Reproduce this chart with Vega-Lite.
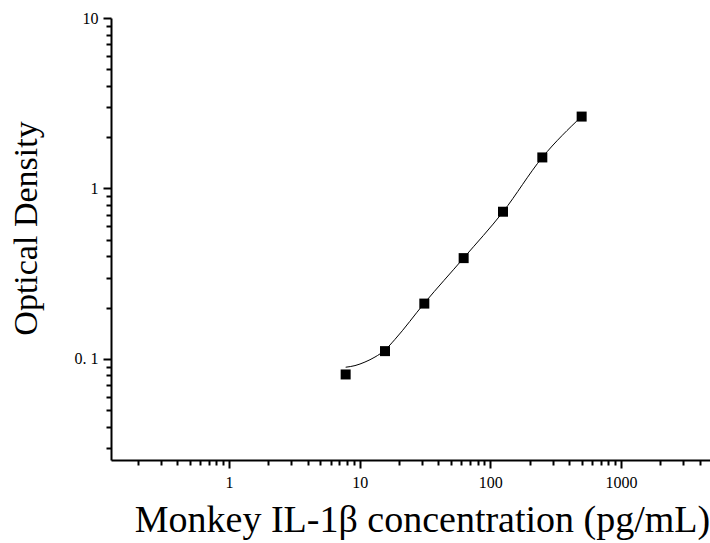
{
  "$schema": "https://vega.github.io/schema/vega-lite/v6.json",
  "width": 599,
  "height": 442,
  "autosize": "none",
  "padding": {"left": 111, "top": 18, "right": 0, "bottom": 83},
  "background": "white",
  "config": {
    "view": {"stroke": null},
    "font": "Liberation Serif",
    "axis": {"grid": false, "domainColor": "#000000", "tickColor": "#000000", "tickOpacity": 1, "ticks": true, "labelColor": "#000000", "titleColor": "#000000", "labelFont": "Liberation Serif", "titleFont": "Liberation Serif", "titleFontWeight": "normal"}
  },
  "datasets": {
    "points": [
      {"conc": 7.8125, "od": 0.081},
      {"conc": 15.625, "od": 0.111},
      {"conc": 31.25, "od": 0.211},
      {"conc": 62.5, "od": 0.39},
      {"conc": 125, "od": 0.73},
      {"conc": 250, "od": 1.52},
      {"conc": 500, "od": 2.64}
    ],
    "curve": [
      {"conc": 7.8125, "od": 0.0893},
      {"conc": 9.21, "od": 0.0913},
      {"conc": 10.98, "od": 0.0958},
      {"conc": 13.1, "od": 0.1025},
      {"conc": 15.625, "od": 0.1126},
      {"conc": 18.64, "od": 0.1302},
      {"conc": 31.25, "od": 0.2121},
      {"conc": 62.5, "od": 0.3907},
      {"conc": 125, "od": 0.7278},
      {"conc": 250, "od": 1.521},
      {"conc": 500, "od": 2.647}
    ]
  },
  "encoding": {
    "x": {"field": "conc", "type": "quantitative", "scale": {"type": "log", "domain": [0.125, 4800], "nice": false},
      "axis": {"values": [0.2, 0.3, 0.4, 0.5, 0.6, 0.7, 0.8, 0.9, 1, 2, 3, 4, 5, 6, 7, 8, 9, 10, 20, 30, 40, 50, 60, 70, 80, 90, 100, 200, 300, 400, 500, 600, 700, 800, 900, 1000, 2000, 3000, 4000],
        "labelExpr": "indexof([1,10,100,1000], datum.value) >= 0 ? format(datum.value, 'd') : ''",
        "tickSize": 8,
        "tickDash": {"condition": {"test": "indexof([1,10,100,1000], datum.value) >= 0", "value": [12, 0]}, "value": [5, 30]},
        "tickWidth": 2, "domainWidth": 2, "labelFontSize": 16, "labelPadding": 6, "labelFlush": false, "labelOverlap": false,
        "title": "Monkey IL-1β concentration (pg/mL)", "titleFontSize": 38, "titleX": 311, "titleY": 71, "titleBaseline": "alphabetic", "titleAnchor": "middle"}},
    "y": {"field": "od", "type": "quantitative", "scale": {"type": "log", "domain": [0.0255, 10], "nice": false},
      "axis": {"values": [0.03, 0.04, 0.05, 0.06, 0.07, 0.08, 0.09, 0.1, 0.2, 0.3, 0.4, 0.5, 0.6, 0.7, 0.8, 0.9, 1, 2, 3, 4, 5, 6, 7, 8, 9, 10],
        "labelExpr": "datum.value == 0.1 ? '0. 1' : datum.value == 1 ? '1' : datum.value == 10 ? '10' : ''",
        "tickSize": 8,
        "tickDash": {"condition": {"test": "indexof([0.1,1,10], datum.value) >= 0", "value": [12, 0]}, "value": [5, 30]},
        "tickWidth": 2, "domainWidth": 2, "labelFontSize": 16, "labelPadding": 5, "labelFlush": false, "labelOverlap": false,
        "title": "Optical Density", "titleFontSize": 34, "titleX": -75, "titleY": 210, "titleAngle": -90, "titleBaseline": "alphabetic", "titleAnchor": "middle"}}
  },
  "layer": [
    {
      "data": {"name": "curve"},
      "mark": {"type": "line", "color": "black", "strokeWidth": 1, "interpolate": "monotone", "clip": true}
    },
    {
      "data": {"name": "points"},
      "mark": {"type": "point", "shape": "square", "filled": true, "color": "black", "opacity": 1, "size": 100}
    }
  ]
}
